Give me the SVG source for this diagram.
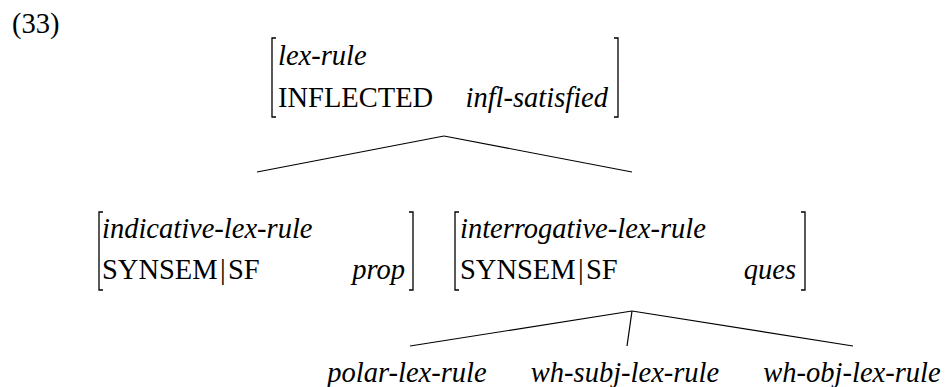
<svg xmlns="http://www.w3.org/2000/svg" width="948" height="387" viewBox="0 0 948 387">
<style>
text { font-family: "Liberation Serif", "Times New Roman", serif; font-size: 28.5px; fill: #000; }
.it { font-style: italic; }
.br { fill: none; stroke: #000; stroke-width: 1.3; }
.edge { fill: none; stroke: #000; stroke-width: 1.2; }
</style>
<rect width="948" height="387" fill="#fff"/>
<text id="label" x="12" y="33">(33)</text>

<g id="edges">
  <line class="edge" x1="444" y1="136" x2="257" y2="172"/>
  <line class="edge" x1="444" y1="136" x2="632" y2="172"/>
  <line class="edge" x1="632" y1="311" x2="410" y2="346"/>
  <line class="edge" x1="632" y1="311" x2="627" y2="346"/>
  <line class="edge" x1="632" y1="311" x2="853" y2="346"/>
</g>

<g id="lex-rule">
  <path class="br" d="M276,38 H272 V117 H276"/>
  <path class="br" d="M614,38 H618 V117 H614"/>
  <text class="it" x="278" y="65">lex-rule</text>
  <text x="278" y="107">INFLECTED</text>
  <text class="it" x="608" y="107" text-anchor="end">infl-satisfied</text>
</g>

<g id="indicative-lex-rule">
  <path class="br" d="M103,212 H99 V290 H103"/>
  <path class="br" d="M409,212 H413 V290 H409"/>
  <text class="it" x="102" y="238">indicative-lex-rule</text>
  <text x="102" y="279">SYNSEM</text>
  <text x="220" y="279">|</text>
  <text x="228" y="279">SF</text>
  <text class="it" x="405" y="279" text-anchor="end">prop</text>
</g>

<g id="interrogative-lex-rule">
  <path class="br" d="M459,212 H455 V290 H459"/>
  <path class="br" d="M801,212 H805 V290 H801"/>
  <text class="it" x="460" y="238">interrogative-lex-rule</text>
  <text x="460" y="279">SYNSEM</text>
  <text x="578" y="279">|</text>
  <text x="586" y="279">SF</text>
  <text class="it" x="796" y="279" text-anchor="end">ques</text>
</g>

<g id="polar-lex-rule">
  <text class="it" x="407" y="382" text-anchor="middle">polar-lex-rule</text>
</g>
<g id="wh-subj-lex-rule">
  <text class="it" x="625" y="382" text-anchor="middle">wh-subj-lex-rule</text>
</g>
<g id="wh-obj-lex-rule">
  <text class="it" x="852" y="382" text-anchor="middle">wh-obj-lex-rule</text>
</g>
</svg>
